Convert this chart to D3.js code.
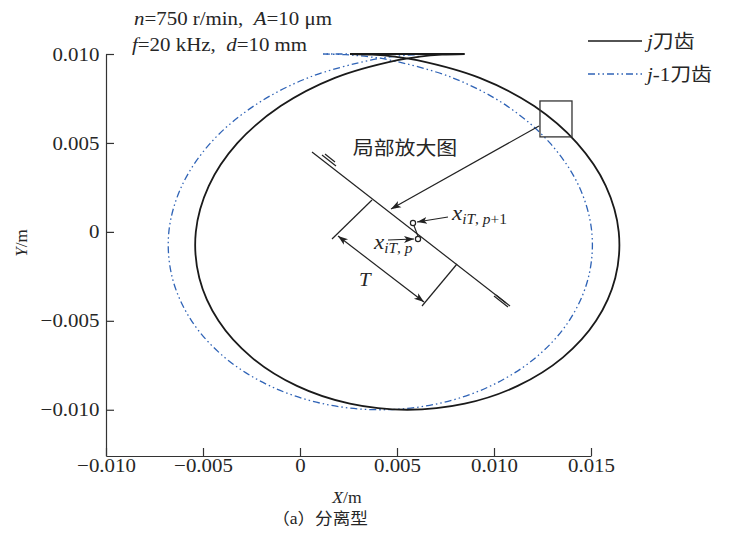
<!DOCTYPE html>
<html>
<head>
<meta charset="utf-8">
<script src="https://cdn.jsdelivr.net/npm/d3@7"></script>
<style>
  body { margin: 0; background: #fff; }
  svg { display: block; }
  text { font-family: "Liberation Serif", "Times New Roman", "Noto Sans CJK SC", serif; fill: #262626; white-space: pre; }
  .axis path, .axis line { stroke: #333; stroke-width: 1.2; }
  .axis text { font-size: 19px; font-family: "Liberation Serif", serif; fill: #262626; }
</style>
</head>
<body>
<svg id="chart" width="737" height="538"></svg>
<script>
// tool tip path points (X, Y in m), one revolution each
const toothJ_X  = [0.00258, 0.00374, 0.00489, 0.00603, 0.00926, 0.01207, 0.01427, 0.01576, 0.01643, 0.01625,
                   0.01526, 0.01354, 0.01122, 0.00849, 0.00553, 0.00257, -0.00016, -0.00248, -0.00420, -0.00519,
                   -0.00537, -0.00470, -0.00322, -0.00100, 0.00180, 0.00503, 0.00617, 0.00732, 0.00848];
const toothJ_Y  = [0.0100, 0.00996, 0.00985, 0.00966, 0.00866, 0.00707, 0.0050, 0.00259, 0, -0.00259,
                   -0.0050, -0.00707, -0.00866, -0.00966, -0.0100, -0.00966, -0.00866, -0.00707, -0.0050, -0.00259,
                   0, 0.00259, 0.0050, 0.00707, 0.00866, 0.00966, 0.00985, 0.00996, 0.0100];
const toothJ1_X = [0.00119, 0.00235, 0.00350, 0.00464, 0.00787, 0.01068, 0.01288, 0.01437, 0.01504, 0.01486,
                   0.01387, 0.01215, 0.00983, 0.00710, 0.00414, 0.00118, -0.00155, -0.00387, -0.00559, -0.00658,
                   -0.00676, -0.00609, -0.00461, -0.00239, 0.00041, 0.00364, 0.00478, 0.00593, 0.00709];
const toothJ1_Y = [0.0100, 0.00996, 0.00985, 0.00966, 0.00866, 0.00707, 0.0050, 0.00259, 0, -0.00259,
                   -0.0050, -0.00707, -0.00866, -0.00966, -0.0100, -0.00966, -0.00866, -0.00707, -0.0050, -0.00259,
                   0, 0.00259, 0.0050, 0.00707, 0.00866, 0.00966, 0.00985, 0.00996, 0.0100];

const xTicks = [-0.010, -0.005, 0, 0.005, 0.010, 0.015];
const yTicks = [-0.010, -0.005, 0, 0.005, 0.010];
const seriesNames = ["刀齿", "-1刀齿"];

const svg = d3.select('#chart');
const SX = 1.1;   // the source figure is a little wider than tall

const xScale = d3.scaleLinear().domain([-0.010, 0.015]).range([106, 591]);
const yScale = d3.scaleLinear().domain([-0.0126, 0.010]).range([456, 54]);

const fmt = d => d === 0 ? '0' : d3.format('.3f')(d);

// axes, ticks pointing inward
svg.append('g')
  .attr('class', 'axis')
  .attr('transform', `translate(0, ${yScale(-0.0126)})`)
  .call(d3.axisBottom(xScale).tickValues(xTicks).tickFormat(fmt)
    .tickSizeInner(-8).tickSizeOuter(0).tickPadding(3))
  .selectAll('text').attr('transform', `scale(${SX},1)`);

svg.append('g')
  .attr('class', 'axis')
  .attr('transform', `translate(${xScale(-0.010)}, 0)`)
  .call(d3.axisLeft(yScale).tickValues(yTicks).tickFormat(fmt)
    .tickSizeInner(-8).tickSizeOuter(0).tickPadding(6))
  .selectAll('text').attr('transform', `scale(${SX},1)`);

function label(x, y, size, anchor) {
  return svg.append('text')
    .attr('transform', `translate(${x}, ${y}) scale(${SX},1)`)
    .attr('text-anchor', anchor || 'start')
    .style('font-size', size + 'px');
}

// axis titles
const xt = label(347, 503, 16, 'middle');
xt.append('tspan').style('font-style', 'italic').text('X');
xt.append('tspan').text('/m');

const yt = svg.append('text')
  .attr('transform', 'translate(27, 243) rotate(-90)')
  .attr('text-anchor', 'middle').style('font-size', '17px');
yt.append('tspan').style('font-style', 'italic').text('Y');
yt.append('tspan').text('/m');

label(320, 524, 16, 'middle').text('（a）分离型');

// curves
const line = d3.line()
  .x(d => xScale(d[0]))
  .y(d => yScale(d[1]))
  .curve(d3.curveCatmullRom.alpha(0.5));

const ptsJ = toothJ_X.map((v, i) => [v, toothJ_Y[i]]);
const ptsJ1 = toothJ1_X.map((v, i) => [v, toothJ1_Y[i]]);

function drawTooth(pts, color, width, dash) {
  const g = svg.append('g');
  g.append('path')
    .attr('d', line(pts))
    .attr('fill', 'none')
    .attr('stroke', color)
    .attr('stroke-width', width)
    .attr('stroke-dasharray', dash);
  // closing segment back to start
  const a = pts[pts.length - 1], b = pts[0];
  g.append('line')
    .attr('x1', xScale(a[0])).attr('y1', yScale(a[1]))
    .attr('x2', xScale(b[0])).attr('y2', yScale(b[1]))
    .attr('stroke', color)
    .attr('stroke-width', width)
    .attr('stroke-dasharray', dash);
}

const blueDash = '7,3,1.5,3,1.5,3';
drawTooth(ptsJ1, '#2f63b6', 1.3, blueDash);
drawTooth(ptsJ, '#1a1a1a', 1.8, null);

// arrow heads
const defs = svg.append('defs');
defs.append('marker')
  .attr('id', 'arr')
  .attr('viewBox', '0 0 10 10')
  .attr('refX', 10).attr('refY', 5)
  .attr('markerWidth', 10).attr('markerHeight', 10)
  .attr('markerUnits', 'userSpaceOnUse')
  .attr('orient', 'auto-start-reverse')
  .append('path')
  .attr('d', 'M0,1.5 L10,5 L0,8.5 L2.5,5 Z')
  .attr('fill', '#222');

// zoom box on the j tooth path
const box = {x0: 0.01237, x1: 0.01402, y0: 0.00534, y1: 0.00736};
svg.append('rect')
  .attr('x', xScale(box.x0)).attr('y', yScale(box.y1))
  .attr('width', xScale(box.x1) - xScale(box.x0))
  .attr('height', yScale(box.y0) - yScale(box.y1))
  .attr('fill', 'none').attr('stroke', '#333').attr('stroke-width', 1.3);

const pt = (px, py) => [xScale.invert(px), yScale.invert(py)];
const seg = (a, b, opts = {}) => {
  const l = svg.append('line')
    .attr('x1', xScale(a[0])).attr('y1', yScale(a[1]))
    .attr('x2', xScale(b[0])).attr('y2', yScale(b[1]))
    .attr('stroke', '#222').attr('stroke-width', opts.w || 1.2);
  if (opts.end) l.attr('marker-end', 'url(#arr)');
  if (opts.start) l.attr('marker-start', 'url(#arr)');
  return l;
};

// pointer from the box to the sketch
seg(pt(539, 126), pt(391, 209), {end: true});

// enlarged sketch: path line with overlapping ends
seg(pt(312, 152), pt(510, 306));
seg(pt(322, 155), pt(336, 166));
seg(pt(325, 154), pt(335, 162));
seg(pt(494, 296), pt(508, 307));
seg(pt(496, 295), pt(506, 303));
seg(pt(413, 223), pt(419, 239));

// T dimension
seg(pt(372, 200), pt(332, 239));
seg(pt(457, 264), pt(422, 306));
seg(pt(338, 236), pt(424, 302), {start: true, end: true});

[[413, 223], [418, 239]].forEach(p => {
  const d = pt(p[0], p[1]);
  svg.append('circle').attr('cx', xScale(d[0])).attr('cy', yScale(d[1])).attr('r', 2.6)
    .attr('fill', '#fff').attr('stroke', '#222').attr('stroke-width', 1.2);
});

seg(pt(448, 217), pt(417, 222), {end: true});
seg(pt(388, 240), pt(414, 239), {end: true});

label(405, 155, 19, 'middle').text('局部放大图');
label(359, 286, 19).style('font-style', 'italic').text('T');

function sub(x, y, s) {
  const t = label(x, y, 21);
  t.append('tspan').style('font-style', 'italic').text('x');
  const st = t.append('tspan').attr('dy', 4).style('font-size', '14px');
  st.append('tspan').style('font-style', 'italic').text('iT');
  st.append('tspan').text(', ');
  st.append('tspan').style('font-style', 'italic').text('p');
  if (s) st.append('tspan').text(s);
}
sub(452, 220, '+1');
sub(374, 249, '');

// parameter note
const n1 = label(134, 25, 19);
n1.append('tspan').style('font-style', 'italic').text('n');
n1.append('tspan').text('=750 r/min,  ');
n1.append('tspan').style('font-style', 'italic').text('A');
n1.append('tspan').text('=10 μm');
const n2 = label(132, 51, 19);
n2.append('tspan').style('font-style', 'italic').text('f');
n2.append('tspan').text('=20 kHz,  ');
n2.append('tspan').style('font-style', 'italic').text('d');
n2.append('tspan').text('=10 mm');

// legend
const legend = svg.append('g');
[['#1a1a1a', 1.6, null, 'j', seriesNames[0], 41],
 ['#2f63b6', 1.3, blueDash, 'j', seriesNames[1], 74]].forEach(r => {
  legend.append('line')
    .attr('x1', 588).attr('x2', 642).attr('y1', r[5]).attr('y2', r[5])
    .attr('stroke', r[0]).attr('stroke-width', r[1]).attr('stroke-dasharray', r[2]);
  const t = label(647, r[5] + 7, 19);
  t.append('tspan').style('font-style', 'italic').text(r[3]);
  t.append('tspan').text(r[4]);
});
</script>
</body>
</html>
